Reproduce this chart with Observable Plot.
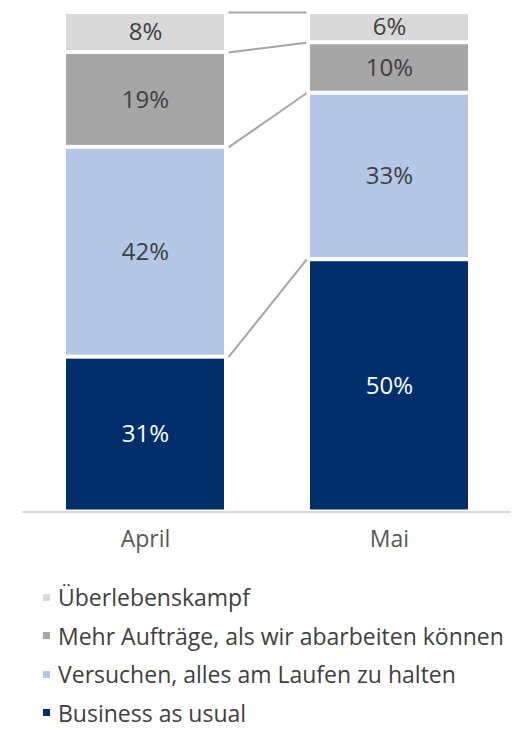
<!DOCTYPE html>
<html>
<head>
<meta charset="utf-8">
<script src="https://cdn.jsdelivr.net/npm/d3@7"></script>
<script src="https://cdn.jsdelivr.net/npm/@observablehq/plot@0.6"></script>
<style>
  html, body { margin: 0; padding: 0; background: #fff; }
  body { width: 522px; font-family: "Open Sans", sans-serif; }
  #legend { padding: 16px 0 0 43px; }
  .item { display: flex; align-items: center; height: 38.5px; font-size: 23px; color: #404040; white-space: nowrap; }
  .sw { width: 7px; height: 7px; margin-right: 8px; flex: none; }
</style>
</head>
<body>
<div id="chart"></div>
<div id="legend"></div>
<script>
const months = ["April", "Mai"];
const categories = [
  "Business as usual",
  "Versuchen, alles am Laufen zu halten",
  "Mehr Aufträge, als wir abarbeiten können",
  "Überlebenskampf"
];
const april = [31, 42, 19, 8];
const mai = [50, 33, 10, 6];
const colors = ["#002F6C", "#B4C7E7", "#A6A6A6", "#D9D9D9"];

const data = categories.flatMap((c, i) => [
  {month: "April", cat: c, value: april[i]},
  {month: "Mai", cat: c, value: mai[i]}
]);

const sumA = d3.sum(april), sumM = d3.sum(mai);
const cumA = d3.cumsum(april), cumM = d3.cumsum(mai);
const links = categories.map((c, i) => ({
  x1: "April", x2: "Mai", y1: cumA[i] / sumA, y2: cumM[i] / sumM
}));

const gap = 4;
const stackOpts = {x: "month", y: "value", z: "cat", order: categories, offset: "normalize"};

const chart = Plot.plot({
  width: 522,
  height: 562,
  marginTop: 12,
  marginBottom: 50.5,
  marginLeft: 22,
  marginRight: 11,
  style: {fontFamily: "Open Sans, sans-serif", background: "#fff"},
  x: {domain: months, paddingInner: 0.354, paddingOuter: 0.177, label: null},
  y: {domain: [0, 1], axis: null},
  color: {domain: categories, range: colors},
  marks: [
    Plot.barY(data, {x: "month", y: "value", fill: "cat", order: categories, offset: "normalize", insetTop: 2, insetBottom: 2}),
    Plot.link(links, {
      x1: "x1", x2: "x2", y1: "y1", y2: "y2",
      stroke: "#A6A6A6", strokeWidth: 2,
      render(index, scales, values, dimensions, context, next) {
        const bw = scales.x.bandwidth();
        const X1 = new Float64Array(links.length);
        const X2 = new Float64Array(links.length);
        for (const i of index) {
          X1[i] = scales.x(links[i].x1) + bw / 2 + gap;
          X2[i] = scales.x(links[i].x2) - bw / 2 - gap;
        }
        return next(index, scales, {...values, x1: X1, x2: X2}, dimensions, context);
      }
    }),
    Plot.text(data, Plot.filter(d => d.cat === categories[0], Plot.stackY({...stackOpts, text: d => d.value + "%", fill: "white", fontSize: 24}))),
    Plot.text(data, Plot.filter(d => d.cat !== categories[0], Plot.stackY({...stackOpts, text: d => d.value + "%", fill: "#404040", fontSize: 24}))),
    Plot.ruleY([0], {stroke: "#D9D9D9", strokeWidth: 2}),
    Plot.axisX({tickSize: 0, tickPadding: 19, fontSize: 23, color: "#595959", label: null})
  ]
});
document.getElementById("chart").appendChild(chart);

const legend = document.getElementById("legend");
for (let i = categories.length - 1; i >= 0; i--) {
  const item = document.createElement("div");
  item.className = "item";
  const sw = document.createElement("span");
  sw.className = "sw";
  sw.style.background = colors[i];
  const lab = document.createElement("span");
  lab.textContent = categories[i];
  item.appendChild(sw);
  item.appendChild(lab);
  legend.appendChild(item);
}
</script>
</body>
</html>
